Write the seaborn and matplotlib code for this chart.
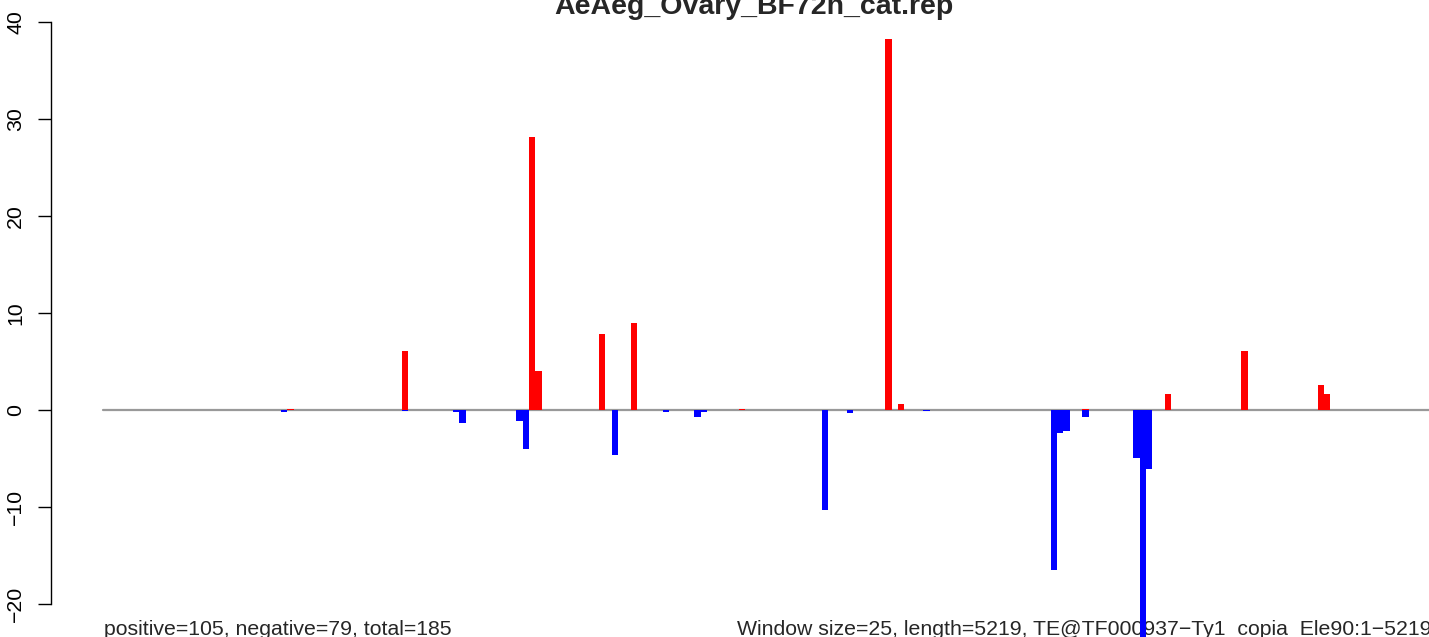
import pandas as pd
import numpy as np
import seaborn as sns
import matplotlib
matplotlib.use('Agg')
import matplotlib.pyplot as plt

sns.set_style('white')
plt.rcParams['font.family'] = ['Liberation Sans', 'DejaVu Sans']

title = 'AeAeg_Ovary_BF72h_cat.rep'
left_note = 'positive=105, negative=79, total=185'
right_note = 'Window size=25, length=5219, TE@TF000937\u2212Ty1_copia_Ele90:1\u22125219'

n_windows = 209

# windows with reads on the plus strand
pos_idx = [29, 47, 67, 68, 78, 83, 100, 123, 125, 154, 167, 179, 191, 192]
pos_val = [0.1, 6.05, 28.1, 3.95, 7.8, 8.9, 0.1, 38.2, 0.55, 0.1, 1.6, 6.1, 2.55, 1.6]

# windows with reads on the minus strand
neg_idx = [28, 47, 55, 56, 65, 66, 80, 88, 93, 94, 113, 117, 129,
           149, 150, 151, 154, 162, 163, 164]
neg_val = [-0.2, -0.1, -0.2, -1.35, -1.2, -4.1, -4.7, -0.25, -0.8, -0.25, -10.3, -0.35, -0.1,
           -16.5, -2.35, -2.2, -0.75, -4.95, -28.0, -6.1]

pos = np.zeros(n_windows)
pos[pos_idx] = pos_val
neg = np.zeros(n_windows)
neg[neg_idx] = neg_val

df = pd.concat([
    pd.DataFrame({'window': np.arange(n_windows), 'value': pos, 'strand': 'pos'}),
    pd.DataFrame({'window': np.arange(n_windows), 'value': neg, 'strand': 'neg'}),
])

fig = plt.figure(figsize=(14.29, 6.37), dpi=100)
ax = fig.add_axes([50.7 / 1429, 0, 1 - 50.7 / 1429, 1])
ax.patch.set_alpha(0)

ax.plot([-0.5, n_windows - 0.5], [0, 0], color='#999999', lw=1.6, zorder=0.8)
sns.barplot(data=df, x='window', y='value', hue='strand', order=list(range(n_windows)),
            palette={'pos': '#ff0000', 'neg': '#0000ff'}, dodge=False, width=1,
            saturation=1, errorbar=None, linewidth=0, legend=False, ax=ax)

ax.set_xlim(-8.72, 207.99)
ax.set_ylim(-23.43, 42.24)
ax.set_xlabel('')
ax.set_ylabel('')
ax.set_xticks([])
ax.set_yticks([-20, -10, 0, 10, 20, 30, 40])
ax.set_yticklabels(['\u221220', '\u221210', '0', '10', '20', '30', '40'],
                   rotation=90, va='center', fontsize=15.3)
ax.tick_params(axis='y', direction='out', length=9.4, width=1, pad=9, left=True, colors='black')
for s in ['top', 'right', 'bottom']:
    ax.spines[s].set_visible(False)
ax.spines['left'].set_bounds(-20, 40)
ax.spines['left'].set_color('black')
ax.spines['left'].set_linewidth(1)

fig.text(754 / 1429, 1 - 14 / 637, title, ha='center', va='baseline',
         fontsize=20.5, fontweight='bold')
ax.text(104 / 1429, (637 - 635) / 637, left_note, transform=fig.transFigure,
        ha='left', va='baseline', fontsize=15.3, zorder=0.5, clip_on=False)
ax.text(737 / 1429, (637 - 635) / 637, right_note, transform=fig.transFigure,
        ha='left', va='baseline', fontsize=15.3, zorder=0.5, clip_on=False)

fig.savefig('out.png', dpi=100)
